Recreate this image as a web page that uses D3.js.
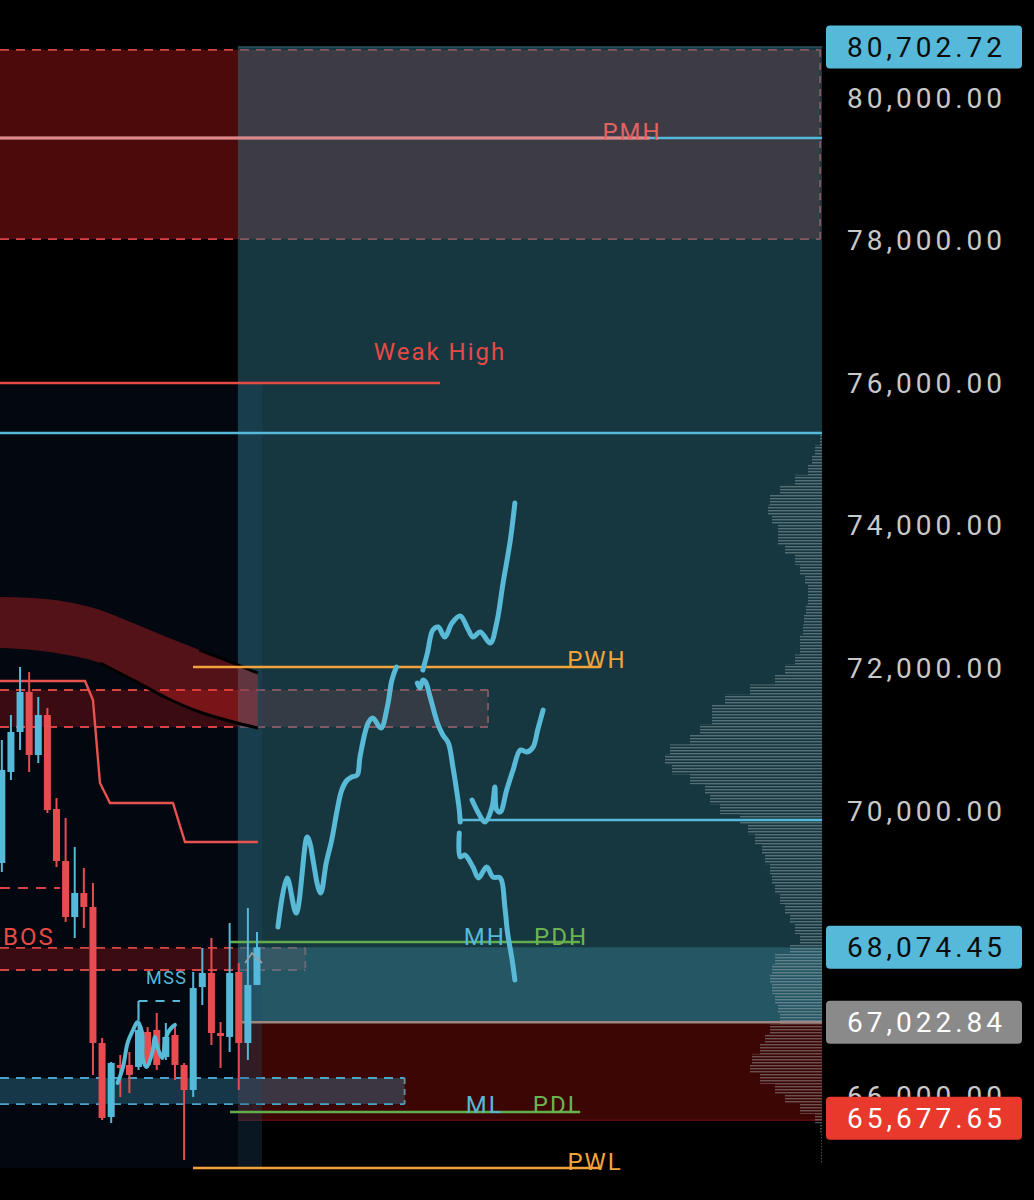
<!DOCTYPE html>
<html><head><meta charset="utf-8">
<script src="https://cdn.jsdelivr.net/npm/d3@7"></script>
<style>body{margin:0;background:#000;}svg{display:block;}</style>
</head><body>
<svg id="chart" width="1034" height="1200"></svg>
<script>
// ---------------- DATA ----------------
const opens  = [69257,70533,71094,71655,70771,71332,70014,69285,68499,68836,68640,66732,65694,66424,66424,66396,66887,66915,66536,66845,66424,66073,67517,67714,66872,66817,67728,66732,67546];
const highs  = [70982,71332,72006,71935,71585,71430,70168,69888,69481,69187,68976,66802,66466,66564,66606,67027,66956,67153,67013,67013,66452,67728,68065,68205,67027,68415,67854,68626,68289];
const lows   = [69131,70420,70841,70533,70659,69958,69200,68429,68205,68345,66283,65652,65610,65975,66031,66354,66382,66354,66494,66213,65091,65975,67265,66704,66382,66606,66073,66494,67546];
const closes = [70561,71094,71655,70771,71332,69999,69285,68499,68836,68640,66732,65680,66452,66382,66284,66915,66424,66424,66817,66424,66073,67503,67714,66872,66830,67714,66732,67546,68074.45];

const axisTicks = [80000,78000,76000,74000,72000,70000,66000];
const tagValues = [80702.72, 68074.45, 67022.84, 65677.65];

// level lines (price)
const levelPMH = 79425, levelWeakHigh = 75988, levelBlueHigh = 75287, levelPWH = 72005;
const levelMidBlue = 69860, levelPDH = 68148, levelPDL = 65764, levelPWL = 64979;
const levelOldBOS = 68906, levelMSS = 67321;

// zones [top price, bottom price]
const zonePremium = [80660, 78008];
const zoneRange   = [80702.72, 67022.84];
const zoneUpper   = [68074.45, 67022.84];
const zoneLower   = [67022.84, 65650];
const zoneOB      = [71683, 71164];
const zoneBOS     = [68065, 67756];
const zoneDisc    = [66241, 65876];

// EMA ribbon
const bandIdx = [-0.2, 3.4, 7.2, 10.8, 14.4, 18.1, 21.7, 25.4, 28.1];
const bandTop = [72987,72973,72917,72805,72622,72426,72244,72061,71921];
const bandBot = [72272,72244,72174,72061,71823,71571,71374,71234,71150];

// trailing stop step line
const stopIdx   = [-0.2, 9.13, 10.0, 10.77, 11.87, 18.78, 20.1, 28.1];
const stopPrice = [71809, 71809, 71543, 70379, 70098, 70098, 69551, 69551];

// hand-drawn projections [bar index, price]
const projUp1 = [[30.3,68359],[31.3,69046],[32.3,68555],[33.5,69621],[33.8,69540],[34.2,69260],[34.7,68920],[35.0,68836],[35.6,69260],[36.2,69579],[36.8,70000],[37.3,70280],[37.9,70420],[38.4,70463],[39.0,70491],[39.3,70743],[40.2,71220],[40.7,71290],[41.6,71150],[42.3,71444],[42.8,71823],[43.3,72005]];
const projUp2 = [[46.2,71963],[46.7,72202],[47.3,72524],[47.9,72566],[48.6,72426],[49.4,72622],[50.3,72721],[51.2,72524],[51.7,72426],[52.5,72496],[53.6,72342],[54.3,72622],[55.0,73183],[55.8,73786],[56.3,74305]];
const projDown1 = [[45.6,71781],[45.9,71711],[46.2,71823],[46.5,71795],[47.0,71585],[47.8,71220],[48.4,71052],[49.0,70939],[49.5,70603],[49.9,70280],[50.2,70000],[50.3,69831]];
const projDown2 = [[50.2,69677],[50.3,69341],[50.8,69369],[51.7,69200],[52.3,69046],[53.2,69200],[53.9,69060],[54.7,69046],[55.2,68639],[55.5,68275],[56.0,67896],[56.3,67615]];
const projBounce = [[51.6,70140],[52.3,69958],[53.0,69831],[53.8,70042],[54.1,70322],[54.3,70000],[54.7,69972],[55.4,70280],[56.1,70561],[56.9,70841],[57.6,70813],[58.3,70883],[58.8,71122],[59.4,71402]];
const scribble = [[12.7,66171],[13.3,66395],[13.8,66732],[14.4,66914],[14.9,67026],[15.4,66872],[15.5,66493],[15.9,66395],[16.5,66592],[16.8,66816],[17.1,66662],[17.6,66522],[17.9,66732],[18.2,66872],[18.7,66957],[19.0,66985]];

// volume profile (rows from the top price downward)
const profileTopPrice = 75260, profileBin = 140;
const profileVolumes = [2,7,10,14,27,42,52,54,50,44,44,37,27,22,17,14,14,16,18,19,22,22,27,37,47,72,97,110,110,122,132,152,157,150,132,117,112,102,82,74,67,60,57,52,50,47,42,37,32,27,22,32,47,50,52,50,47,44,42,52,57,62,70,72,62,47,37,22,7,2,1,1,1];

// ---------------- SCALES ----------------
const x = d3.scaleLinear().domain([-0.2, 90]).range([0, 822]);
const y = d3.scaleLinear().domain([80000, 70000]).range([97, 810]);
const vol = d3.scaleLinear().domain([0, 160]).range([0, 160]);
const X0 = -0.2, XR = 25.9, XS = 28.55, XE = 90;

const svg = d3.select("#chart");
const FONT = "Roboto, 'Liberation Sans', sans-serif";

const defs = svg.append("defs");
const pat = defs.append("pattern").attr("id","vp").attr("patternUnits","userSpaceOnUse").attr("width",8).attr("height",3);
pat.append("rect").attr("x",0).attr("y",0).attr("width",8).attr("height",1.4).attr("fill","rgba(175,185,190,0.42)");
defs.append("clipPath").attr("id","plot").append("rect").attr("x",0).attr("y",0).attr("width",x(XE)).attr("height",1200);

svg.append("rect").attr("width",1034).attr("height",1200).attr("fill","#000");
const g = svg.append("g").attr("clip-path","url(#plot)");

function box(i0, i1, p0, p1, fill) {
  return g.append("rect").attr("x", x(i0)).attr("y", y(p0))
    .attr("width", x(i1) - x(i0)).attr("height", y(p1) - y(p0)).attr("fill", fill);
}
function hline(i0, i1, p, stroke, w, dash) {
  const l = g.append("line").attr("x1", x(i0)).attr("x2", x(i1)).attr("y1", y(p)).attr("y2", y(p))
    .attr("stroke", stroke).attr("stroke-width", w);
  if (dash) l.attr("stroke-dasharray", dash);
  return l;
}
function vline(i, p0, p1, stroke, w, dash) {
  const l = g.append("line").attr("x1", x(i)).attr("x2", x(i)).attr("y1", y(p0)).attr("y2", y(p1))
    .attr("stroke", stroke).attr("stroke-width", w);
  if (dash) l.attr("stroke-dasharray", dash);
  return l;
}

// session background left
box(X0, XR, levelWeakHigh, levelPWL, "#03070f");

// red / blue zones (under the range overlay)
box(X0, 89.8, zonePremium[0], zonePremium[1], "rgba(160,20,20,0.48)");
box(XR, XE, zoneLower[0], zoneLower[1], "#3c0605");
hline(XR, XE, zoneLower[1], "#5a0d0d", 1.5);
box(X0, 53.35, zoneOB[0], zoneOB[1], "rgba(170,25,25,0.33)");
box(X0, 33.3, zoneBOS[0], zoneBOS[1], "rgba(170,25,25,0.33)");
box(X0, 44.2, zoneDisc[0], zoneDisc[1], "rgba(60,150,185,0.34)");

const RD = "#d64545", DASH = "9 7";
[[zonePremium, 89.8], [zoneOB, 53.35], [zoneBOS, 33.3]].forEach(([z, e]) => {
  hline(X0, e, z[0], RD, 1.8, DASH);
  hline(X0, e, z[1], RD, 1.8, DASH);
  vline(e, z[0], z[1], RD, 1.8, "7 6");
});
hline(X0, 44.2, zoneDisc[0], "#4aa3c8", 1.8, DASH);
hline(X0, 44.2, zoneDisc[1], "#4aa3c8", 1.8, DASH);
vline(44.2, zoneDisc[0], zoneDisc[1], "#6d8f9c", 1.8, "6 5");

// range overlay (teal)
box(XR, XE, zoneRange[0], zoneRange[1], "rgba(45,109,128,0.5)");
hline(XR, XE, zoneRange[0], "#2a5560", 1.5);
box(XR, XE, zoneUpper[0], zoneUpper[1], "rgba(60,140,160,0.36)");
// current session strip
box(XR, XS, levelWeakHigh, levelPWL, "rgba(25,75,110,0.3)");

// volume profile
profileVolumes.forEach((v, i) => {
  const p0 = profileTopPrice - i * profileBin, p1 = p0 - profileBin;
  const w = vol(v);
  g.append("rect").attr("x", x(XE) - w).attr("y", y(p0)).attr("width", w)
    .attr("height", y(p1) - y(p0)).attr("fill", "url(#vp)");
});

// EMA ribbon
const bandData = bandIdx.map((d, i) => ({ i: d, t: bandTop[i], b: bandBot[i] }));
g.append("path").datum(bandData)
  .attr("d", d3.area().x(d => x(d.i)).y0(d => y(d.b)).y1(d => y(d.t)).curve(d3.curveMonotoneX))
  .attr("fill", "rgba(234,40,40,0.35)");
g.append("path").datum(bandData.filter(d => d.i >= 10.8))
  .attr("d", d3.line().x(d => x(d.i)).y(d => y(d.b)).curve(d3.curveMonotoneX))
  .attr("fill", "none").attr("stroke", "#000").attr("stroke-width", 3);
g.append("path").datum(bandData.filter(d => d.i >= 21.7))
  .attr("d", d3.line().x(d => x(d.i)).y(d => y(d.t)).curve(d3.curveMonotoneX))
  .attr("fill", "none").attr("stroke", "#000").attr("stroke-width", 3);

// level lines
const BLUE = "#56b9d9", ORANGE = "#f2a33a", GREEN = "#62ae4a", REDL = "#e64a45";
hline(X0, XE, levelPMH, BLUE, 2.4);
hline(X0, 71.1, levelPMH, "#e58585", 3.2);
hline(X0, 48.08, levelWeakHigh, REDL, 2.4);
hline(X0, XE, levelBlueHigh, BLUE, 2.4);
hline(20.98, 65.64, levelPWH, ORANGE, 2.4);
hline(50.06, XE, levelMidBlue, BLUE, 2.4);
hline(25.04, 63.45, levelPDH, GREEN, 2.4);
hline(25.04, 63.45, levelPDL, GREEN, 2.4);
hline(20.98, 65.64, levelPWL, ORANGE, 2.4);
hline(XR, XE, zoneLower[0], "#9c8780", 2.4);
hline(X0, 6.4, levelOldBOS, RD, 2.2, "10 8");
hline(15.0, 19.55, levelMSS, BLUE, 2.2, "9 8");
vline(15.0, levelMSS, 67050, BLUE, 2.2);

// trailing stop
g.append("path").datum(stopIdx.map((d, i) => [d, stopPrice[i]]))
  .attr("d", d3.line().x(d => x(d[0])).y(d => y(d[1])))
  .attr("fill", "none").attr("stroke", "#e8534f").attr("stroke-width", 2.4);

// candles
const UP = "#56b9d9", DN = "#e84c50";
const cd = opens.map((o, i) => ({ i, o, h: highs[i], l: lows[i], c: closes[i] }));
const cg = g.append("g");
cg.selectAll("line.w").data(cd).join("line")
  .attr("x1", d => x(d.i)).attr("x2", d => x(d.i))
  .attr("y1", d => y(d.h)).attr("y2", d => y(d.l))
  .attr("stroke", d => d.c >= d.o ? UP : DN).attr("stroke-width", 2);
cg.selectAll("rect.b").data(cd).join("rect")
  .attr("x", d => x(d.i) - 3.5).attr("width", 7)
  .attr("y", d => y(Math.max(d.o, d.c)))
  .attr("height", d => Math.max(1.8, y(Math.min(d.o, d.c)) - y(Math.max(d.o, d.c))))
  .attr("fill", d => d.c >= d.o ? UP : DN);

// chevron marker
g.append("path").datum([[26.7, 67854], [27.45, 67994], [28.55, 67854]])
  .attr("d", d3.line().x(d => x(d[0])).y(d => y(d[1])))
  .attr("fill", "none").attr("stroke", "#8fa2a8").attr("stroke-width", 1.8);

// hand drawn projections
const draw = d3.line().x(d => x(d[0])).y(d => y(d[1])).curve(d3.curveCatmullRom.alpha(0.5));
[projUp1, projUp2, projDown1, projDown2, projBounce].forEach(p => {
  g.append("path").datum(p).attr("d", draw).attr("fill", "none")
    .attr("stroke", "#58bad6").attr("stroke-width", 5)
    .attr("stroke-linecap", "round").attr("stroke-linejoin", "round");
});
g.append("path").datum(scribble).attr("d", draw).attr("fill", "none")
  .attr("stroke", "#58bad6").attr("stroke-width", 4)
  .attr("stroke-linecap", "round").attr("stroke-linejoin", "round");

// labels
function label(txt, i, py, color, size, anchor, ls) {
  return g.append("text").attr("x", x(i)).attr("y", py).text(txt)
    .attr("fill", color).attr("font-family", FONT).attr("font-size", size)
    .attr("text-anchor", anchor || "middle").attr("letter-spacing", ls == null ? 2 : ls);
}
label("PMH", 69.15, y(levelPMH) + 2, "#e26262", 24);
label("Weak High", 48.08, y(levelWeakHigh) - 23, REDL, 24);
label("PWH", 65.3, y(levelPWH) + 1, ORANGE, 24);
label("MH", 53.0, y(levelPDH) + 3, BLUE, 24);
label("PDH", 61.36, y(levelPDH) + 3, "#6db350", 24);
label("ML", 53.0, y(levelPDL) + 1, BLUE, 24);
label("PDL", 61.0, y(levelPDL) + 1, "#6db350", 24);
label("PWL", 65.1, y(levelPWL) + 2, ORANGE, 24);
label("BOS", 0.13, y(zoneBOS[0]) - 3, REDL, 24, "start");
label("MSS", 18.1, y(levelMSS) - 17, BLUE, 18, "middle", 1.5);

// price axis
const axisG = svg.append("g").attr("transform", "translate(1006,0)")
  .call(d3.axisRight(y).tickValues(axisTicks).tickSize(0).tickFormat(d3.format(",.2f")));
axisG.select(".domain").remove();
axisG.selectAll("text").attr("x", 0).attr("dy", "0.36em").attr("text-anchor", "end")
  .attr("fill", "#c8c8c8").attr("font-family", FONT).attr("font-size", 28).attr("letter-spacing", 4);

// price tags
const tagFill = ["#56b9d9", "#56b9d9", "#8a8a8a", "#e8392c"];
const tagText = ["#0b0b0b", "#0b0b0b", "#ffffff", "#ffffff"];
const tags = svg.append("g");
tagValues.forEach((v, k) => {
  tags.append("rect").attr("x", 826).attr("y", y(v) - 21.5).attr("width", 196).attr("height", 43)
    .attr("rx", 4).attr("fill", tagFill[k]);
  tags.append("text").attr("x", 1006).attr("y", y(v)).attr("dy", "0.36em")
    .attr("text-anchor", "end").attr("fill", tagText[k]).attr("font-family", FONT)
    .attr("font-size", 28).attr("letter-spacing", 4).text(d3.format(",.2f")(v));
});
</script>
</body></html>
